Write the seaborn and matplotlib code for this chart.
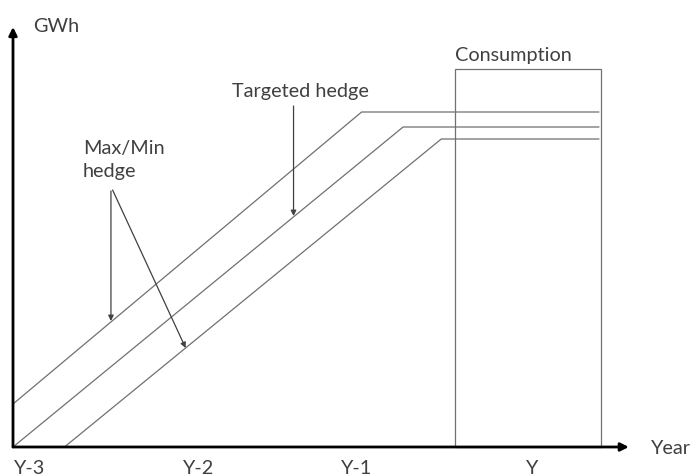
import numpy as np
import pandas as pd
import seaborn as sns
import matplotlib.pyplot as plt
from matplotlib.patches import Rectangle

sns.set_theme(style="white")
plt.rcParams['font.family'] = ['Lato', 'DejaVu Sans']

# years on x (0 = Y-3), GWh on an arbitrary scale
year_labels = ["Y-3", "Y-2", "Y-1", "Y"]
year_ticks = [0.10, 1.12, 2.07, 3.13]
max_x = [0.0, 2.10, 3.53]
max_y = [43, 335, 335]
target_x = [0.0, 2.35, 3.53]
target_y = [0, 320, 320]
min_x = [0.31, 2.58, 3.53]
min_y = [0, 308, 308]
consumption_start, consumption_end, consumption_level = 2.66, 3.54, 378

df = pd.concat([
    pd.DataFrame({"year": max_x, "gwh": max_y, "series": "Max hedge"}),
    pd.DataFrame({"year": target_x, "gwh": target_y, "series": "Targeted hedge"}),
    pd.DataFrame({"year": min_x, "gwh": min_y, "series": "Min hedge"}),
])

fig = plt.figure(figsize=(6.93, 4.76), dpi=100)
ax = fig.add_axes([0, 0, 1, 1])
ax.set_xlim(-13 / 166, 680 / 166)
ax.set_ylim(-29, 447)
ax.axis("off")

sns.lineplot(data=df, x="year", y="gwh", hue="series", units="series",
             estimator=None, sort=False, ax=ax, legend=False,
             palette=["#707070"] * 3, linewidth=0.9)

ax.add_patch(Rectangle((consumption_start, 0), consumption_end - consumption_start,
                       consumption_level, fill=False, edgecolor="#707070", lw=0.9))

txt = "#404040"
fs = 14.3
# axes with arrows
arrow = dict(arrowstyle="-|>", color="black", lw=2, mutation_scale=12,
             shrinkA=0, shrinkB=0)
ax.annotate("", xy=(0, 420), xytext=(0, 0), arrowprops=arrow)
ax.annotate("", xy=(3.71, 0), xytext=(0, 0), arrowprops=arrow)

ax.text(0.12, 420, "GWh", color=txt, fontsize=fs, va="center", ha="left")
ax.text(3.845, -2, "Year", color=txt, fontsize=fs, va="center", ha="left")
for pos, lab in zip(year_ticks, year_labels):
    ax.text(pos, -22, lab, color=txt, fontsize=fs, ha="center", va="center")

ax.text(consumption_start, 392, "Consumption",
        color=txt, fontsize=fs, ha="left", va="center")

thin = dict(arrowstyle="-|>", color="#404040", lw=0.9, mutation_scale=8,
            shrinkA=0, shrinkB=0)
ax.text(1.32, 356, "Targeted hedge", color=txt, fontsize=fs, ha="left", va="center")
ax.annotate("", xy=(1.69, 231), xytext=(1.69, 341), arrowprops=thin)

ax.text(0.42, 287, "Max/Min\nhedge", color=txt, fontsize=fs, ha="left",
        va="center", linespacing=1.45)
ax.annotate("", xy=(0.59, 126), xytext=(0.59, 256), arrowprops=thin)
ax.annotate("", xy=(1.04, 99), xytext=(0.60, 257), arrowprops=thin)

fig.savefig("out.png", dpi=100)
